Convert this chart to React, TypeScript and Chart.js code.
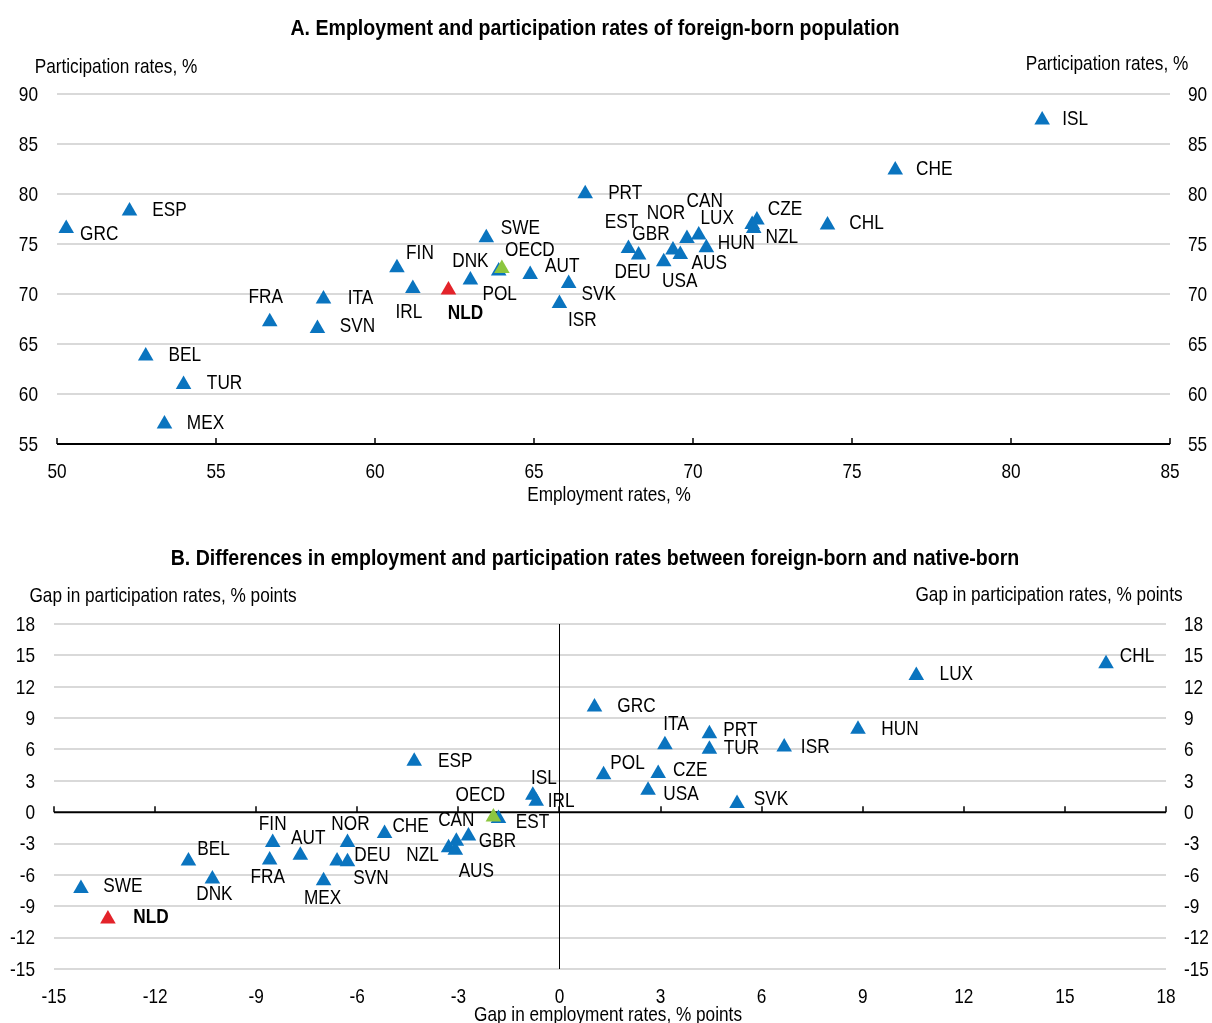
import React, { useEffect, useRef } from 'react';
import { Chart, registerables } from 'chart.js';

Chart.register(...registerables);

const FONT = '"Liberation Sans", Arial, sans-serif';
const NARROW = 0.82;
const BLUE = '#0a74bf';
const GREEN = '#8cc63f';
const RED = '#e3232a';
const GRID = '#d9d9d9';

// ---------- Panel A: foreign-born employment vs participation rates ----------
const titleA = 'A. Employment and participation rates of foreign-born population';
const yTitleA = 'Participation rates, %';
const xTitleA = 'Employment rates, %';
const countriesA = ['GRC', 'ESP', 'BEL', 'TUR', 'MEX', 'FRA', 'ITA', 'SVN', 'FIN', 'IRL', 'NLD', 'DNK', 'SWE', 'POL', 'OECD', 'AUT', 'SVK', 'ISR', 'PRT', 'EST', 'DEU', 'USA', 'GBR', 'AUS', 'NOR', 'CAN', 'HUN', 'LUX', 'NZL', 'CZE', 'CHL', 'CHE', 'ISL'];
const employmentA = [50.29, 52.28, 52.79, 53.98, 53.38, 56.69, 58.38, 58.19, 60.69, 61.19, 62.31, 63.0, 63.5, 63.89, 63.99, 64.88, 66.09, 65.8, 66.61, 67.97, 68.29, 69.08, 69.37, 69.6, 69.81, 70.18, 70.42, 71.86, 71.91, 72.01, 74.23, 76.36, 80.98];
const participationA = [76.56, 78.3, 63.8, 60.96, 57.0, 67.23, 69.5, 66.56, 72.63, 70.56, 70.4, 71.4, 75.63, 72.3, 72.56, 71.96, 71.06, 69.06, 80.03, 74.56, 73.9, 73.23, 74.4, 73.96, 75.56, 75.9, 74.63, 76.96, 76.56, 77.4, 76.9, 82.4, 87.4];
const xRangeA = [50, 85, 5];
const yRangeA = [55, 90, 5];

// label anchor offsets (px) relative to the marker, panel A
const labelOffsetA: Record<string, [number, number]> = {
  ISL: [33, -2], CHE: [39, -2], CHL: [39, -3], CZE: [28, -12], NZL: [28, 8], LUX: [-35, -7],
  CAN: [6, -35], NOR: [-21, -26], EST: [-7, -27], GBR: [-22, -17], HUN: [30, -5], AUS: [29, 8],
  DEU: [-6, 16], USA: [16, 19], PRT: [40, -1], SWE: [34, -10], OECD: [28, -19], DNK: [0, -20],
  AUT: [32, -9], POL: [1, 22], SVK: [30, 10], ISR: [23, 16], NLD: [17, 22], IRL: [-4, 23],
  FIN: [23, -15], ITA: [37, -2], FRA: [-4, -25], SVN: [40, -3], BEL: [39, -2], TUR: [41, -2],
  MEX: [41, -2], ESP: [40, -2], GRC: [33, 5],
};

// ---------- Panel B: gaps between foreign-born and native-born ----------
const titleB = 'B. Differences in employment and participation rates between foreign-born and native-born';
const yTitleB = 'Gap in participation rates, % points';
const xTitleB = 'Gap in employment rates, % points';
const countriesB = ['SWE', 'NLD', 'BEL', 'DNK', 'FIN', 'FRA', 'AUT', 'MEX', 'SVN', 'NOR', 'DEU', 'CHE', 'NZL', 'AUS', 'CAN', 'GBR', 'OECD', 'EST', 'ESP', 'ISL', 'IRL', 'GRC', 'POL', 'USA', 'CZE', 'ITA', 'PRT', 'TUR', 'SVK', 'ISR', 'HUN', 'LUX', 'CHL'];
const employmentGapB = [-14.2, -13.4, -11.01, -10.3, -8.51, -8.6, -7.69, -7.0, -6.6, -6.29, -6.29, -5.19, -3.29, -3.09, -3.06, -2.7, -1.96, -1.81, -4.31, -0.79, -0.69, 1.04, 1.31, 2.63, 2.93, 3.13, 4.45, 4.45, 5.27, 6.67, 8.86, 10.59, 16.22];
const participationGapB = [-7.3, -10.22, -4.68, -6.4, -2.9, -4.58, -4.11, -6.56, -4.68, -2.9, -4.75, -2.04, -3.41, -3.63, -2.77, -2.29, -0.45, -0.61, 4.87, 1.62, 1.05, 10.06, 3.59, 2.1, 3.69, 6.46, 7.51, 6.02, 0.82, 6.24, 7.93, 13.08, 14.19];
const xRangeB = [-15, 18, 3];
const yRangeB = [-15, 18, 3];

const labelOffsetB: Record<string, [number, number]> = {
  CHL: [31, -9], LUX: [40, -2], HUN: [42, -1], ISR: [31, -1], TUR: [32, -2], PRT: [31, -4],
  ITA: [11, -21], GRC: [42, -2], POL: [24, -12], CZE: [32, -4], USA: [33, 3], SVK: [34, -5],
  ESP: [41, -1], ISL: [11, -18], IRL: [25, -1], EST: [34, 3], OECD: [-13, -23], CAN: [0, -22],
  GBR: [29, 4], NZL: [-26, 6], AUS: [21, 20], CHE: [26, -8], NOR: [3, -19], DEU: [25, -8],
  SVN: [34, 16], AUT: [8, -18], FIN: [0, -19], FRA: [-2, 16], MEX: [-1, 16], BEL: [25, -13],
  DNK: [2, 14], SWE: [42, -3], NLD: [43, -3],
};

type PanelSpec = {
  height: number;
  title: string; titleY: number;
  yTitle: string; yTitleLeft: [number, number]; yTitleRight: [number, number];
  xTitle: string; xTitlePos: [number, number];
  countries: string[]; xs: number[]; ys: number[];
  xRange: number[]; yRange: number[];
  offsets: Record<string, [number, number]>;
  padTop: number; leftW: number; rightW: number; bottomH: number;
  zeroAxis: boolean;
};

function colorFor(c: string) {
  if (c === 'OECD') return GREEN;
  if (c === 'NLD') return RED;
  return BLUE;
}

function buildDatasets(spec: PanelSpec) {
  const groups: { key: string; order: number }[] = [
    { key: 'OECD', order: 0 },
    { key: 'NLD', order: 1 },
    { key: 'other', order: 2 },
  ];
  return groups.map((g) => {
    const idx = spec.countries
      .map((c, i) => i)
      .filter((i) => (g.key === 'other' ? !['OECD', 'NLD'].includes(spec.countries[i]) : spec.countries[i] === g.key));
    const color = g.key === 'other' ? BLUE : colorFor(g.key);
    return {
      label: g.key,
      order: g.order,
      data: idx.map((i) => ({ x: spec.xs[i], y: spec.ys[i], name: spec.countries[i] })),
      pointStyle: 'triangle' as const,
      pointRadius: 9,
      pointHoverRadius: 9,
      backgroundColor: color,
      borderColor: color,
      borderWidth: 0,
    };
  });
}

const TEXT_DY = 1;

function narrowText(ctx: CanvasRenderingContext2D, text: string, x: number, y: number, align: CanvasTextAlign, font: string, sx = NARROW) {
  ctx.save();
  ctx.translate(x, y + TEXT_DY);
  ctx.scale(sx, 1);
  ctx.font = font;
  ctx.textAlign = align;
  ctx.textBaseline = 'middle';
  ctx.fillStyle = '#000';
  ctx.fillText(text, 0, 0);
  ctx.restore();
}

function makeDecor(spec: PanelSpec) {
  return {
    id: 'decor',
    beforeDatasetsDraw(chart: any) {
      const ctx = chart.ctx;
      const { left, right, top, bottom } = chart.chartArea;
      const xs = chart.scales.x;
      const ys = chart.scales.y;
      ctx.save();
      const axisY = spec.zeroAxis ? ys.getPixelForValue(0) : bottom;
      if (spec.zeroAxis) {
        const x0 = Math.round(xs.getPixelForValue(0)) + 0.5;
        ctx.strokeStyle = '#000';
        ctx.lineWidth = 1;
        ctx.beginPath();
        ctx.moveTo(x0, top);
        ctx.lineTo(x0, bottom);
        ctx.stroke();
      }
      ctx.strokeStyle = '#000';
      ctx.lineWidth = 2;
      ctx.beginPath();
      ctx.moveTo(left, axisY);
      ctx.lineTo(right, axisY);
      ctx.stroke();
      ctx.lineWidth = 1.5;
      xs.ticks.forEach((t: any) => {
        const px = Math.round(xs.getPixelForValue(t.value));
        ctx.beginPath();
        ctx.moveTo(px, axisY);
        ctx.lineTo(px, axisY - 6);
        ctx.stroke();
      });
      ctx.restore();
    },
    afterDatasetsDraw(chart: any) {
      const ctx = chart.ctx;
      const { left, right, bottom } = chart.chartArea;
      const xs = chart.scales.x;
      const ys = chart.scales.y;
      const f = '21px ' + FONT;
      // tick labels
      xs.ticks.forEach((t: any) => {
        narrowText(ctx, String(t.value), xs.getPixelForValue(t.value), bottom + 27, 'center', f);
      });
      ys.ticks.forEach((t: any) => {
        const py = ys.getPixelForValue(t.value);
        narrowText(ctx, String(t.value), left - 19, py, 'right', f);
        narrowText(ctx, String(t.value), right + 18, py, 'left', f);
      });
      // point labels
      chart.data.datasets.forEach((ds: any, di: number) => {
        const meta = chart.getDatasetMeta(di);
        ds.data.forEach((d: any, i: number) => {
          const el = meta.data[i];
          const off = spec.offsets[d.name] || [30, 0];
          narrowText(ctx, d.name, el.x + off[0], el.y + off[1], 'center', (d.name === 'NLD' ? 'bold ' : '') + f);
        });
      });
      // titles
      narrowText(ctx, spec.title, 595, spec.titleY, 'center', 'bold 22px ' + FONT, 0.89);
      narrowText(ctx, spec.yTitle, spec.yTitleLeft[0], spec.yTitleLeft[1], 'center', f);
      narrowText(ctx, spec.yTitle, spec.yTitleRight[0], spec.yTitleRight[1], 'center', f);
      narrowText(ctx, spec.xTitle, spec.xTitlePos[0], spec.xTitlePos[1], 'center', f);
    },
  };
}

function Panel({ spec }: { spec: PanelSpec }) {
  const ref = useRef<HTMLCanvasElement | null>(null);
  useEffect(() => {
    if (!ref.current) return;
    const chart = new Chart(ref.current, {
      type: 'scatter',
      data: { datasets: buildDatasets(spec) as any },
      options: {
        responsive: false,
        animation: false,
        events: [],
        devicePixelRatio: 1,
        layout: { padding: { top: spec.padTop, left: 0, right: 0, bottom: 0 } },
        plugins: { legend: { display: false }, tooltip: { enabled: false }, title: { display: false } },
        scales: {
          x: {
            type: 'linear',
            position: 'bottom',
            min: spec.xRange[0],
            max: spec.xRange[1],
            ticks: { stepSize: spec.xRange[2], display: false },
            grid: { display: false, drawTicks: false },
            border: { display: false },
            afterFit: (s: any) => { s.height = spec.bottomH; },
          },
          y: {
            type: 'linear',
            position: 'left',
            min: spec.yRange[0],
            max: spec.yRange[1],
            ticks: { stepSize: spec.yRange[2], display: false },
            grid: {
              drawTicks: false,
              lineWidth: 2,
              color: (c: any) => (spec.zeroAxis && c.tick && c.tick.value === 0 ? 'rgba(0,0,0,0)' : GRID),
            },
            border: { display: false },
            afterFit: (s: any) => { s.width = spec.leftW; },
          },
          y2: {
            type: 'linear',
            position: 'right',
            min: spec.yRange[0],
            max: spec.yRange[1],
            ticks: { stepSize: spec.yRange[2], display: false },
            grid: { display: false, drawTicks: false },
            border: { display: false },
            afterFit: (s: any) => { s.width = spec.rightW; },
          },
        },
      },
      plugins: [makeDecor(spec)],
    });
    return () => chart.destroy();
  }, [spec]);
  return (
    <canvas
      ref={ref}
      width={1212}
      height={spec.height}
      style={{ display: 'block', width: 1212, height: spec.height }}
    />
  );
}

const specA: PanelSpec = {
  height: 510,
  title: titleA, titleY: 28,
  yTitle: yTitleA, yTitleLeft: [116, 66], yTitleRight: [1107, 63],
  xTitle: xTitleA, xTitlePos: [609, 494],
  countries: countriesA, xs: employmentA, ys: participationA,
  xRange: xRangeA, yRange: yRangeA,
  offsets: labelOffsetA,
  padTop: 94, leftW: 57, rightW: 42, bottomH: 66,
  zeroAxis: false,
};

const specB: PanelSpec = {
  height: 513,
  title: titleB, titleY: 48,
  yTitle: yTitleB, yTitleLeft: [163, 85], yTitleRight: [1049, 84],
  xTitle: xTitleB, xTitlePos: [608, 504],
  countries: countriesB, xs: employmentGapB, ys: participationGapB,
  xRange: xRangeB, yRange: yRangeB,
  offsets: labelOffsetB,
  padTop: 114, leftW: 54, rightW: 46, bottomH: 54,
  zeroAxis: true,
};

export default function App() {
  return (
    <div style={{ position: 'absolute', left: 0, top: 0, width: 1212, height: 1023, background: '#fff', overflow: 'hidden' }}>
      <Panel spec={specA} />
      <Panel spec={specB} />
    </div>
  );
}
